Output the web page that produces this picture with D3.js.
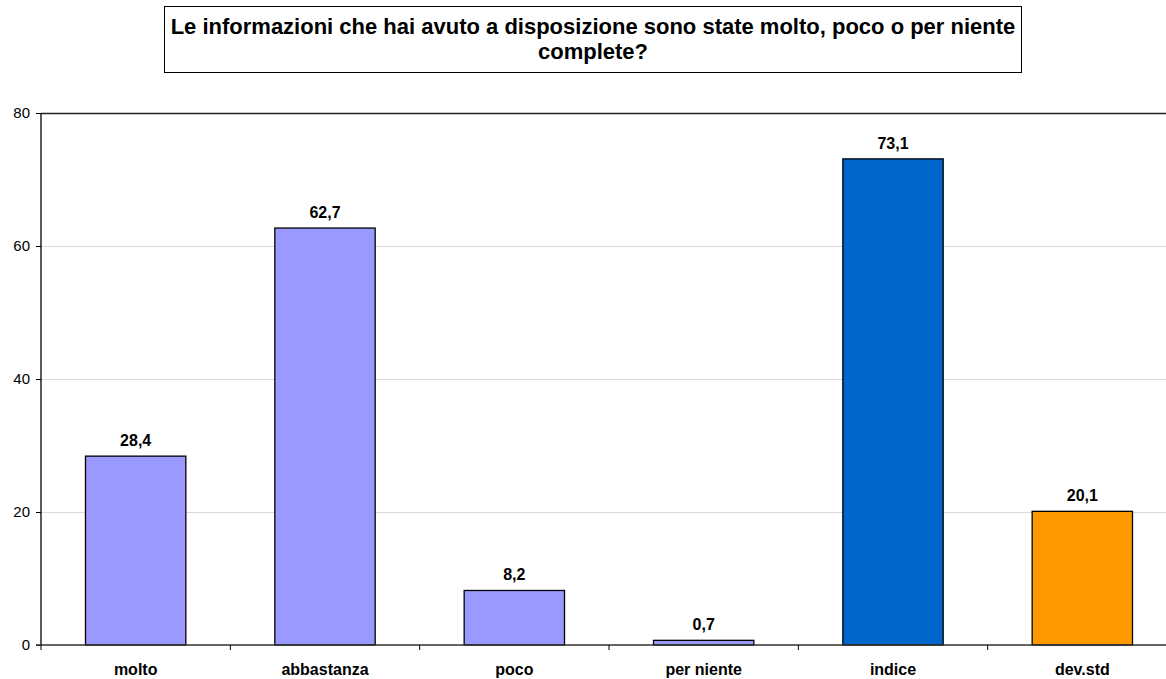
<!DOCTYPE html>
<html>
<head>
<meta charset="utf-8">
<script src="https://cdn.jsdelivr.net/npm/d3@7"></script>
<style>
  body { margin: 0; background: #fff; overflow: hidden; }
  svg { display: block; font-family: "Liberation Sans", Arial, sans-serif; }
</style>
</head>
<body>
<div id="chart"></div>
<script>
const categories = ["molto", "abbastanza", "poco", "per niente", "indice", "dev.std"]
const values = [28.4, 62.7, 8.2, 0.7, 73.1, 20.1]
const barColors = ["#9999ff", "#9999ff", "#9999ff", "#9999ff", "#0066cc", "#ff9900"]
const yTicks = [0, 20, 40, 60, 80]
const titleLines = ["Le informazioni che hai avuto a disposizione sono state molto, poco o per niente", "complete?"]

const W = 1166, H = 679
const MARGIN = { TOP: 113, LEFT: 41 }
const PLOT_W = 1136   // the plot runs past the right edge of the window
const HEIGHT = 645 - MARGIN.TOP

const svg = d3.select("#chart").append("svg")
  .attr("width", W).attr("height", H)

// title box
svg.append("rect")
  .attr("x", 164.5).attr("y", 6.5).attr("width", 857).attr("height", 66)
  .attr("fill", "#fff").attr("stroke", "#000").attr("stroke-width", 1)
svg.selectAll("text.title").data(titleLines).enter().append("text")
  .attr("class", "title")
  .attr("x", 593).attr("y", (d, i) => 34 + i * 25)
  .attr("text-anchor", "middle")
  .attr("font-size", "22px").attr("font-weight", "bold")
  .text(d => d)

const g = svg.append("g").attr("transform", `translate(${MARGIN.LEFT}, ${MARGIN.TOP})`)

const x = d3.scaleBand().domain(categories).range([0, PLOT_W]).paddingInner(0.47).paddingOuter(0.235)
const xTickScale = d3.scaleBand().domain(categories).range([0, PLOT_W])
const y = d3.scaleLinear().domain([0, 80]).range([HEIGHT, 0])

// gridlines
g.selectAll("line.grid").data(yTicks.filter(t => t > 0)).enter().append("line")
  .attr("class", "grid")
  .attr("x1", 0).attr("x2", PLOT_W)
  .attr("y1", d => Math.round(y(d)) + 0.5).attr("y2", d => Math.round(y(d)) + 0.5)
  .attr("stroke", d => d === 80 ? "#222" : "#d9d9d9")
  .attr("stroke-width", d => d === 80 ? 1.5 : 1)

// bars
g.selectAll("rect.bar").data(values).enter().append("rect")
  .attr("class", "bar")
  .attr("x", (d, i) => x(categories[i]))
  .attr("y", d => y(d))
  .attr("width", x.bandwidth())
  .attr("height", d => HEIGHT - y(d))
  .attr("fill", (d, i) => barColors[i])
  .attr("stroke", "#000").attr("stroke-width", 1.3)

// value labels
g.selectAll("text.val").data(values).enter().append("text")
  .attr("class", "val")
  .attr("x", (d, i) => x(categories[i]) + x.bandwidth() / 2)
  .attr("y", d => y(d) - 10)
  .attr("text-anchor", "middle")
  .attr("font-size", "16px").attr("font-weight", "bold")
  .text(d => d3.format(".1f")(d).replace(".", ","))

// y axis
const yAxis = g.append("g").call(d3.axisLeft(y).tickValues(yTicks).tickSize(5).tickPadding(6))
yAxis.select(".domain").attr("stroke", "#000").attr("stroke-width", 1.3).attr("d", `M0,${HEIGHT}V0`)
yAxis.selectAll("line").attr("stroke", "#000")
yAxis.selectAll("text").attr("font-size", "15px").attr("fill", "#000").attr("font-family", "Liberation Sans, Arial, sans-serif")

// x axis
const xAxis = g.append("g").attr("transform", `translate(0, ${HEIGHT})`)
xAxis.append("line").attr("x1", -5).attr("x2", PLOT_W).attr("y1", 0).attr("y2", 0)
  .attr("stroke", "#333").attr("stroke-width", 1.5)
xAxis.selectAll("line.tick").data(categories).enter().append("line")
  .attr("class", "tick")
  .attr("x1", d => xTickScale(d)).attr("x2", d => xTickScale(d))
  .attr("y1", 0).attr("y2", 5).attr("stroke", "#000")
xAxis.selectAll("text").data(categories).enter().append("text")
  .attr("x", d => xTickScale(d) + xTickScale.bandwidth() / 2)
  .attr("y", 30)
  .attr("text-anchor", "middle")
  .attr("font-size", "16px").attr("font-weight", "bold")
  .text(d => d)
</script>
</body>
</html>
